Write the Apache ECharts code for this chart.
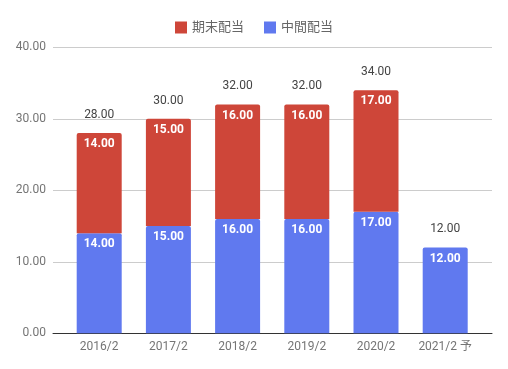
<!DOCTYPE html>
<html><head><meta charset="utf-8">
<script src="https://cdn.jsdelivr.net/npm/echarts@6/dist/echarts.min.js"></script>
<style>html,body{margin:0;padding:0;background:#fff}#c{width:508px;height:369px}</style>
</head><body><div id="c"></div>
<script>
const categories = ['2016/2','2017/2','2018/2','2019/2','2020/2','2021/2 予'];
const interim = [14, 15, 16, 16, 17, 12];      // 中間配当
const yearEnd = [14, 15, 16, 16, 17, null];    // 期末配当
const yTicks = [0, 10, 20, 30, 40];
const totals = categories.map((_, i) => (interim[i] || 0) + (yearEnd[i] || 0));

const FONT = "Roboto, 'Noto Sans CJK JP', sans-serif";
const RED = '#CE4639', BLUE = '#6079EF';
const chart = echarts.init(document.getElementById('c'));
const gTop = 47.3, gBottom = 35.7;
chart.setOption({
  animation: false,
  textStyle: { fontFamily: FONT },
  legend: {
    top: 16, left: 'center', itemWidth: 12, itemHeight: 12, itemGap: 20,
    textStyle: { fontSize: 13, color: '#666', fontFamily: FONT },
    icon: 'rect',
    data: ['期末配当', '中間配当']
  },
  grid: [
    { left: 53, right: 16, top: gTop, bottom: gBottom },
    { left: 64.6, right: 28.2, top: gTop, bottom: gBottom }
  ],
  xAxis: [
    { gridIndex: 0, type: 'category', data: [''], axisLine: { lineStyle: { color: '#333', width: 1 } },
      axisTick: { show: false }, axisLabel: { show: false } },
    { gridIndex: 1, type: 'category', data: categories, axisLine: { show: false }, axisTick: { show: false },
      axisLabel: { color: '#757575', fontSize: 12, margin: 8, interval: 0, fontFamily: FONT } }
  ],
  yAxis: [
    { gridIndex: 0, type: 'value', min: yTicks[0], max: yTicks[yTicks.length - 1], interval: 10,
      axisLine: { show: false }, axisTick: { show: false },
      splitLine: { lineStyle: { color: '#ccc' } },
      axisLabel: { color: '#757575', fontSize: 12, margin: 7, formatter: v => v.toFixed(2), fontFamily: FONT } },
    { gridIndex: 1, type: 'value', min: yTicks[0], max: yTicks[yTicks.length - 1], interval: 10, show: false }
  ],
  series: [
    { name: '中間配当', type: 'bar', stack: 's', xAxisIndex: 1, yAxisIndex: 1, barWidth: 45,
      data: interim, itemStyle: { color: BLUE, borderRadius: [2, 2, 0, 0] },
      label: { show: true, position: 'insideTop', distance: 5, color: '#fff', fontWeight: 'bold', fontSize: 12,
        fontFamily: FONT, formatter: p => p.value.toFixed(2) } },
    { name: '期末配当', type: 'bar', stack: 's', xAxisIndex: 1, yAxisIndex: 1, barWidth: 45,
      data: yearEnd, itemStyle: { color: RED, borderRadius: [2, 2, 0, 0] },
      label: { show: true, position: 'insideTop', distance: 5, color: '#fff', fontWeight: 'bold', fontSize: 12,
        fontFamily: FONT, formatter: p => p.value.toFixed(2) } },
    { name: '合計', type: 'bar', xAxisIndex: 1, yAxisIndex: 1, barWidth: 45, barGap: '-100%',
      data: totals, itemStyle: { color: 'rgba(0,0,0,0)' }, silent: true, z: 1,
      label: { show: true, position: 'top', distance: 12, color: '#444', fontSize: 12,
        fontFamily: FONT, formatter: p => p.value.toFixed(2) } }
  ]
});
</script></body></html>
